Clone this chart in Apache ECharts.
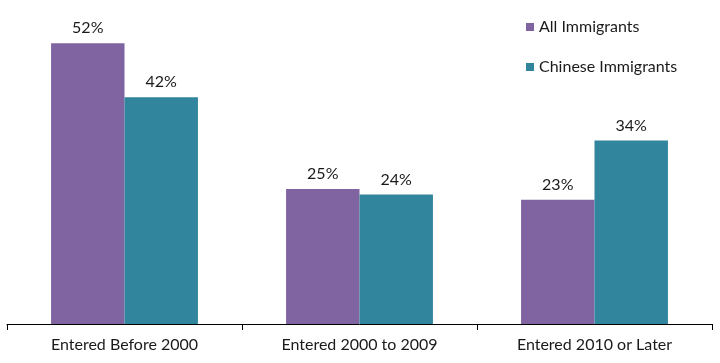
<!DOCTYPE html>
<html><head><meta charset="utf-8">
<script src="https://cdn.jsdelivr.net/npm/echarts@6/dist/echarts.min.js"></script>
<style>html,body{margin:0;padding:0;background:#fff}#c{width:720px;height:363px}</style>
</head><body><div id="c"></div>
<script>
const categories = ["Entered Before 2000", "Entered 2000 to 2009", "Entered 2010 or Later"];
const allImmigrants = [52, 25, 23];
const chineseImmigrants = [42, 24, 34];
const seriesNames = ["All Immigrants", "Chinese Immigrants"];
const colors = ["#8064A2", "#31859C"];
const font = "Lato, 'Open Sans', sans-serif";
const chart = echarts.init(document.getElementById('c'));
const labelCfg = {show: true, position: 'top', distance: 7, formatter: '{c}%', color: '#1a1a1a', fontSize: 16, fontFamily: font};
chart.setOption({
  animation: false,
  grid: {left: 7, right: 8, top: 0, bottom: 39, containLabel: false},
  legend: {
    orient: 'vertical', left: 521, top: 14,
    itemWidth: 8, itemHeight: 8, itemGap: 24, icon: 'rect',
    textStyle: {fontSize: 16, fontFamily: font, color: '#1a1a1a', lineHeight: 16},
    data: seriesNames
  },
  xAxis: {
    type: 'category', data: categories,
    axisLine: {lineStyle: {color: '#000', width: 1}},
    axisTick: {show: true, length: 6, lineStyle: {color: '#000'}},
    axisLabel: {fontSize: 16, fontFamily: font, color: '#1a1a1a', margin: 13}
  },
  yAxis: {type: 'value', min: 0, max: 60, show: false, splitLine: {show: false}},
  series: [
    {name: seriesNames[0], type: 'bar', data: allImmigrants, itemStyle: {color: colors[0]}, barGap: '0%', barCategoryGap: '37.5%', label: labelCfg},
    {name: seriesNames[1], type: 'bar', data: chineseImmigrants, itemStyle: {color: colors[1]}, barGap: '0%', barCategoryGap: '37.5%', label: labelCfg}
  ]
});
</script></body></html>
